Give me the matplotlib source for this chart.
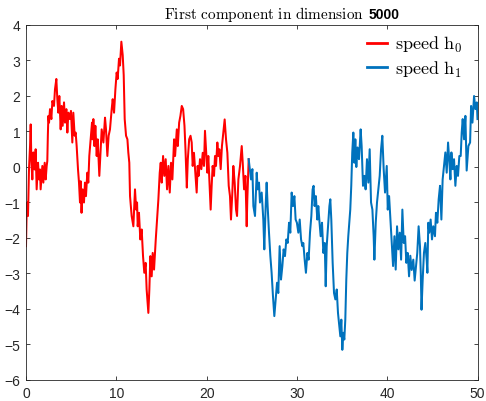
import matplotlib
matplotlib.use('Agg')
import matplotlib.pyplot as plt

plt.rcParams['mathtext.fontset'] = 'cm'
plt.rcParams['font.family'] = ['Liberation Sans', 'DejaVu Sans']

# ---- data (time, value) ----
red_x = [0.0, 0.07, 0.15, 0.22, 0.33, 0.45, 0.52, 0.59, 0.70, 0.81, 0.96, 1.07, 1.18, 1.33, 1.44,
         1.55, 1.62, 1.81, 1.92, 2.07, 2.18, 2.29, 2.36, 2.42, 2.48, 2.55, 2.66, 2.81, 2.92, 3.10,
         3.21, 3.36, 3.47, 3.58, 3.69, 3.84, 3.95, 4.06, 4.21, 4.32, 4.47, 4.58, 4.69, 4.84, 4.98,
         5.13, 5.24, 5.39, 5.50, 5.61, 5.76, 5.87, 5.98, 6.05, 6.15, 6.27, 6.42, 6.53, 6.64, 6.79,
         6.90, 7.01, 7.16, 7.31, 7.38, 7.46, 7.57, 7.68, 7.83, 7.94, 8.12, 8.27, 8.38, 8.57, 8.75,
         8.86, 9.01, 9.15, 9.30, 9.49, 9.60, 9.75, 9.90, 10.04, 10.15, 10.30, 10.41, 10.56, 10.71,
         10.82, 10.93, 11.08, 11.23, 11.33, 11.44, 11.52, 11.70, 11.89, 12.07, 12.20, 12.30, 12.37,
         12.51, 12.66, 12.81, 12.96, 13.10, 13.25, 13.36, 13.55, 13.66, 13.77, 13.92, 14.03, 14.18,
         14.37, 14.51, 14.66, 14.81, 14.92, 15.03, 15.18, 15.32, 15.47, 15.62, 15.77, 15.92, 16.06,
         16.21, 16.40, 16.51, 16.70, 16.81, 16.96, 17.10, 17.25, 17.40, 17.55, 17.66, 17.81, 17.92,
         18.07, 18.22, 18.35, 18.46, 18.60, 18.72, 18.90, 19.01, 19.12, 19.27, 19.42, 19.57, 19.71,
         19.82, 19.93, 20.08, 20.19, 20.30, 20.45, 20.56, 20.67, 20.82, 20.93, 21.04, 21.19, 21.30,
         21.41, 21.56, 21.70, 21.85, 22.00, 22.15, 22.30, 22.45, 22.59, 22.70, 22.85, 22.96, 23.11,
         23.26, 23.37, 23.52, 23.70, 23.89, 24.00, 24.15, 24.30, 24.44, 24.51, 24.66]
red_y = [-2.23, -1.29, -1.0, -1.38, -0.07, 0.6, 1.2, 0.22, -0.35, 0.41, -0.07, 0.5, -0.63, 0.12, -0.35,
         -0.07, -0.63, 0.03, -0.44, 0.12, -0.35, 0.03, 0.17, 0.9, 1.44, 1.25, 1.63, 1.35, 1.86, 1.72,
         2.19, 2.48, 1.91, 1.53, 2.0, 1.06, 1.72, 1.16, 1.82, 1.25, 1.63, 0.97, 1.53, 1.35, 1.58,
         0.69, 1.53, 0.88, 0.97, 0.59, -0.07, -0.44, -1.0, -0.4, -1.29, -0.63, -1.0, -0.44, -0.82, -0.16,
         -0.44, 0.31, 0.78, 1.25, 0.78, 1.35, 0.59, 1.16, 0.31, 0.78, -0.25, 0.5, 1.06, 0.69, 1.39,
         1.06, 0.31, 0.88, 1.06, 1.63, 1.91, 1.53, 2.19, 2.66, 2.48, 3.05, 2.86, 3.53, 3.15,
         2.59, 1.35, 0.88, 0.78, 0.41, 0.12, -0.82, -1.38, -1.67, -0.63, -1.2, -1.0, -1.67,
         -1.29, -2.04, -1.76, -2.51, -2.98, -2.70, -3.45, -4.11, -3.45, -2.51, -3.08, -2.42, -2.89,
         -2.04, -1.48, -0.91, -0.16, 0.12, -0.44, 0.31, -0.25, 0.22, -0.63, 0.03, -0.72, 0.12,
         -0.35, 0.78, 0.31, 1.06, 0.59, 1.25, 1.44, 1.72, 1.63, 1.16, 0.5, -0.58, 0.22,
         0.78, 0.88, 0.69, 0.03, 0.40, -0.06, -0.72, 0.03, -0.25, 0.22, -0.06, 0.40, 0.03,
         1.02, 0.50, -0.16, 0.31, -0.35, -1.2, -0.53, 0.03, -0.25, 0.31, 0.03, 0.69, 0.31,
         0.50, -0.06, 0.59, 0.97, 1.34, 0.78, 0.40, -0.53, -0.82, -1.48, -0.72, 0.03, -0.44,
         -1.2, -1.38, -0.35, 0.03, 0.59, 0.12, -0.63, -0.25, -1.67, -0.91, 0.22]

blue_x = [24.66, 24.92, 25.07, 25.18, 25.36, 25.55, 25.66, 25.80, 25.91, 26.10, 26.28, 26.39, 26.54,
          26.65, 26.76, 26.91, 27.06, 27.20, 27.35, 27.50, 27.65, 27.80, 27.94, 28.09, 28.24, 28.39,
          28.53, 28.68, 28.83, 28.98, 29.13, 29.27, 29.42, 29.57, 29.72, 29.86, 30.00, 30.16, 30.31,
          30.46, 30.60, 30.71, 30.86, 31.00, 31.16, 31.30, 31.45, 31.60, 31.74, 31.85, 31.96, 32.10,
          32.26, 32.37, 32.48, 32.63, 32.78, 32.93, 33.08, 33.19, 33.30, 33.45, 33.60, 33.70, 33.81,
          33.96, 34.11, 34.26, 34.41, 34.55, 34.70, 34.81, 34.92, 35.03, 35.14, 35.25, 35.36, 35.47,
          35.58, 35.69, 35.80, 35.91, 36.02, 36.13, 36.25, 36.36, 36.47, 36.58, 36.70, 36.80, 36.88,
          37.06, 37.17, 37.32, 37.47, 37.61, 37.76, 37.91, 38.06, 38.21, 38.36, 38.50, 38.58, 38.73,
          38.87, 39.02, 39.17, 39.32, 39.46, 39.61, 39.76, 39.95, 40.06, 40.21, 40.36, 40.50, 40.65,
          40.80, 40.94, 41.09, 41.24, 41.39, 41.54, 41.68, 41.83, 41.98, 42.12, 42.27, 42.42, 42.56,
          42.71, 42.89, 43.04, 43.19, 43.33, 43.48, 43.63, 43.72, 43.80, 43.93, 44.07, 44.22, 44.37,
          44.45, 44.55, 44.66, 44.81, 44.96, 45.10, 45.29, 45.40, 45.55, 45.70, 45.85, 46.00, 46.14,
          46.29, 46.44, 46.59, 46.74, 46.89, 47.00, 47.11, 47.25, 47.40, 47.55, 47.70, 47.84, 47.99,
          48.14, 48.25, 48.36, 48.51, 48.66, 48.80, 48.99, 49.18, 49.29, 49.44, 49.62, 49.77, 49.92,
          50.0]
blue_y = [0.22, -0.35, -0.06, -1.1, -1.38, -0.16, -0.63, -0.44, -1.0, -0.72, -1.48, -2.32, -1.1,
          -0.44, -1.1, -1.85, -2.51, -2.98, -3.64, -4.2, -3.73, -3.26, -3.55, -2.23, -3.17, -2.79,
          -2.32, -2.51, -2.04, -2.14, -1.57, -1.85, -0.72, -1.1, -0.82, -1.48, -1.57, -1.85, -1.48,
          -2.04, -2.23, -2.14, -2.61, -2.98, -2.42, -2.61, -1.85, -1.38, -0.63, -0.53, -1.1, -0.82,
          -1.48, -1.1, -1.48, -1.95, -1.57, -2.42, -2.14, -3.36, -2.23, -1.67, -1.1, -0.91, -1.48,
          -2.7, -3.55, -3.73, -3.45, -4.11, -4.49, -4.77, -4.3, -5.15, -4.67, -4.86, -4.3, -3.17,
          -2.42, -1.95, -1.57, -1.2, -0.53, 0.41, 0.97, 0.12, 0.78, 0.0, 0.55, 0.3, 0.22,
          1.06, 0.59, -0.53, -0.25, -0.63, 0.22, -0.44, 0.5, -1.0, -1.2, -1.95, -2.61, -1.57,
          -1.0, -0.63, -0.25, 0.5, 0.88, -0.06, -0.72, 0.03, -1.2, -0.82, -1.48, -2.14, -2.79,
          -1.95, -2.89, -1.67, -2.32, -1.85, -2.61, -1.2, -2.14, -1.95, -2.7, -2.42, -3.08, -2.5,
          -2.9, -2.61, -3.2, -2.79, -2.42, -1.67, -2.23, -3.0, -4.02, -3.17, -2.42, -2.14, -2.61,
          -2.98, -1.57, -1.85, -1.48, -2.04, -1.67, -1.95, -1.29, -1.57, -0.91, -0.53, -1.48, -0.35,
          0.03, 0.41, -0.16, 0.69, 0.12, -0.35, 0.41, -0.06, 0.22, -0.53, 0.03, -0.25, 0.31,
          0.31, 0.97, 1.35, 0.78, 1.44, -0.1, 0.59, 0.69, 1.72, 1.25, 2.0, 1.63, 1.82,
          1.35]

x_ticks = [0, 10, 20, 30, 40, 50]
y_ticks = [-6, -5, -4, -3, -2, -1, 0, 1, 2, 3, 4]

axis_col = '#262626'

fig = plt.figure(figsize=(4.86, 4.02), dpi=100)
ax = fig.add_axes([26 / 486, 1 - 381 / 402, 451.5 / 486, 355 / 402])

ax.plot(red_x, red_y, color='#ff0000', lw=1.45, label=r'$\mathrm{speed}\ \mathrm{h}_0$')
ax.plot(blue_x, blue_y, color='#0072bd', lw=1.45, label=r'$\mathrm{speed}\ \mathrm{h}_1$')

ax.set_xlim(0, 50)
ax.set_ylim(-6, 4)
ax.set_xticks(x_ticks)
ax.set_yticks(y_ticks)
ax.tick_params(direction='in', top=True, right=True, length=3, width=0.6,
               colors=axis_col, labelsize=10, pad=4)
for s in ax.spines.values():
    s.set_color(axis_col)
    s.set_linewidth(0.6)

leg = ax.legend(loc='upper right', bbox_to_anchor=(0.967, 0.975), frameon=False,
                fontsize=13, handlelength=1.1, handletextpad=0.45, labelspacing=0.25,
                borderpad=0, borderaxespad=0)
for ln in leg.get_lines():
    ln.set_linewidth(2)

# title: latex-style text followed by a bold sans number
fig.text(364 / 486, 1 - 19 / 402, r'$\mathrm{First\ component\ in\ dimension}$',
         ha='right', va='baseline', fontsize=11, color='k')
fig.text(369 / 486, 1 - 19 / 402, '5000', ha='left', va='baseline', fontsize=10,
         fontweight='bold', color='k')

fig.savefig('out.png', dpi=100)
